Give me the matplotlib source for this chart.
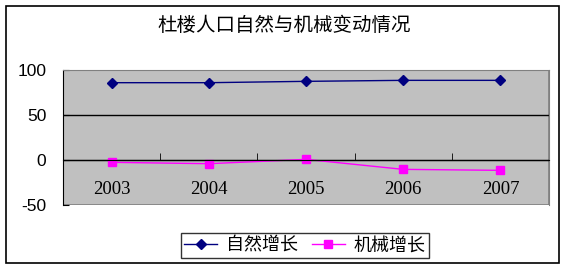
import matplotlib
matplotlib.use("Agg")
import matplotlib.pyplot as plt
from matplotlib.patches import Rectangle

plt.rcParams['font.family'] = ['Noto Sans CJK SC', 'DejaVu Sans']

years = ["2003", "2004", "2005", "2006", "2007"]
natural = [85.9, 85.9, 87.4, 88.5, 88.5]
mechanical = [-2.6, -4.1, 0.7, -10.4, -11.5]
yticks = [100, 50, 0, -50]
title = "杜楼人口自然与机械变动情况"
series_names = ["自然增长", "机械增长"]

fig = plt.figure(figsize=(5.68, 2.71), dpi=100)
fig.patches.append(Rectangle((6/568, 1-263/271), 553/568, 257/271, transform=fig.transFigure,
                             fill=False, edgecolor='black', lw=1.2))
ax = fig.add_axes([63/568, 1-205/271, 486/568, 135/271])
ax.set_facecolor('#C0C0C0')

x = list(range(1, len(years)+1))
ax.plot(x, natural, color='#000080', marker='D', markersize=5, lw=1, label=series_names[0])
ax.plot(x, mechanical, color='#FF00FF', marker='s', markersize=6, lw=1, label=series_names[1])

ax.set_xlim(0.5, len(years)+0.5)
ax.set_ylim(-50, 100)
ax.set_yticks(yticks)
ax.set_yticklabels([str(v) for v in yticks], family=['Liberation Sans'], fontsize=12.5)
ax.tick_params(axis='y', direction='in', length=4, pad=12, color='black')
for v in yticks[1:-1]:
    ax.axhline(v, color='black', lw=1, zorder=1)

ax.spines['bottom'].set_position(('data', 0))
ax.spines['bottom'].set_color('black')
ax.spines['left'].set_color('black')
ax.spines['top'].set_color('#808080')
ax.spines['right'].set_color('#808080')
ax.add_patch(Rectangle((0, 0), 1, 1, transform=ax.transAxes, fill=False,
                       edgecolor='#808080', lw=1.2, zorder=0.5))
ax.set_xticks(x)
ax.set_xticklabels(years, family=['Liberation Serif'], fontsize=13.5)
ax.tick_params(axis='x', length=0, pad=15)
ax.set_xticks([i + 0.5 for i in x[:-1]], minor=True)
ax.tick_params(axis='x', which='minor', direction='in', length=5, color='black')

fig.text(0.5, 1-25/271, title, ha='center', va='center', fontsize=14)

leg = fig.legend(loc='center', bbox_to_anchor=(305/568, 1-245.5/271), ncol=2,
                 fontsize=13, frameon=True, fancybox=False, edgecolor='black',
                 handlelength=1.8, handletextpad=0.5, columnspacing=0.8,
                 borderpad=0.2)
leg.get_frame().set_linewidth(1)

fig.savefig("out.png", dpi=100)
